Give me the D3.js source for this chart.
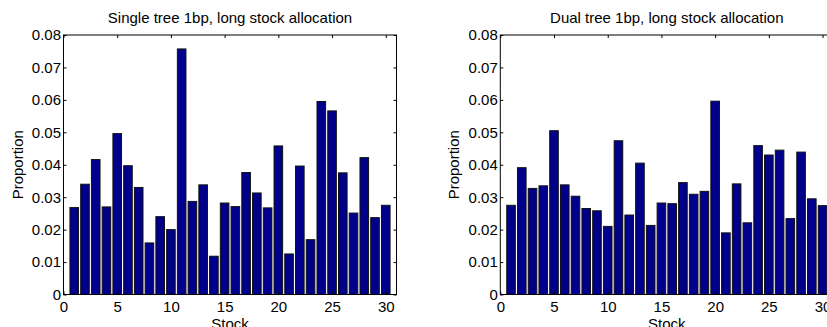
<!DOCTYPE html>
<html>
<head>
<meta charset="utf-8">
<script src="https://cdn.jsdelivr.net/npm/d3@7"></script>
<style>
  body { margin: 0; background: #fff; }
  svg { display: block; }
  text { font-family: "Liberation Sans", Arial, Helvetica, sans-serif; fill: #000; }
</style>
</head>
<body>
<script>
'use strict';

var stocks = d3.range(1, 31);

var singleTree = [
  0.0268, 0.0340, 0.0416, 0.0270, 0.0496, 0.0397, 0.0330, 0.0159, 0.0240, 0.0200,
  0.0757, 0.0287, 0.0338, 0.0118, 0.0282, 0.0271, 0.0376, 0.0313, 0.0267, 0.0458,
  0.0125, 0.0396, 0.0169, 0.0595, 0.0566, 0.0375, 0.0251, 0.0422, 0.0237, 0.0275
];

var dualTree = [
  0.0275, 0.0391, 0.0327, 0.0335, 0.0505, 0.0338, 0.0303, 0.0265, 0.0258, 0.0210,
  0.0474, 0.0245, 0.0405, 0.0213, 0.0282, 0.0280, 0.0345, 0.0309, 0.0318, 0.0596,
  0.0190, 0.0341, 0.0221, 0.0459, 0.0430, 0.0445, 0.0234, 0.0439, 0.0295, 0.0274
];

var xTicks = [0, 5, 10, 15, 20, 25, 30];
var yTicks = [0, 0.01, 0.02, 0.03, 0.04, 0.05, 0.06, 0.07, 0.08];

var titles = [
  'Single tree 1bp, long stock allocation',
  'Dual tree 1bp, long stock allocation'
];

var width  = 827;
var height = 327;

var svg = d3.select('body').append('svg')
    .attr('width', width)
    .attr('height', height);

var plotW = 333;
var plotH = 259.5;
var top0  = 35;

drawPanel(63.5, singleTree, titles[0]);
drawPanel(500.3, dualTree, titles[1]);

function drawPanel(left, values, title) {
  var g = svg.append('g').attr('transform', 'translate(' + left + ',' + top0 + ')');

  var x = d3.scaleLinear().domain([0, 31]).range([0, plotW]);
  var y = d3.scaleLinear().domain([0, 0.08]).range([plotH, 0]);
  var barW = x(0.8) - x(0);

  g.selectAll('rect.bar')
    .data(values)
    .enter().append('rect')
    .attr('class', 'bar')
    .attr('x', function(d, i) { return x(stocks[i]) - barW / 2; })
    .attr('y', function(d) { return y(d); })
    .attr('width', barW)
    .attr('height', function(d) { return y(0) - y(d); })
    .attr('fill', '#00008a')
    .attr('stroke', '#111')
    .attr('stroke-width', 1);

  // box
  g.append('rect')
    .attr('width', plotW)
    .attr('height', plotH)
    .attr('fill', 'none')
    .attr('stroke', '#000')
    .attr('stroke-width', 1);

  var fontSize = '15px';

  var bottom = g.append('g').attr('transform', 'translate(0,' + plotH + ')')
    .call(d3.axisBottom(x).tickValues(xTicks).tickFormat(d3.format('d'))
      .tickSizeInner(-3).tickSizeOuter(0).tickPadding(6.5));
  var leftAx = g.append('g')
    .call(d3.axisLeft(y).tickValues(yTicks).tickFormat(function(d) { return d === 0 ? '0' : d3.format('.2f')(d); })
      .tickSizeInner(-3).tickSizeOuter(0).tickPadding(2.5));
  var topAx = g.append('g')
    .call(d3.axisTop(x).tickValues(xTicks).tickFormat('').tickSizeInner(-3).tickSizeOuter(0));
  var rightAx = g.append('g').attr('transform', 'translate(' + plotW + ',0)')
    .call(d3.axisRight(y).tickValues(yTicks).tickFormat('').tickSizeInner(-3).tickSizeOuter(0));

  [bottom, leftAx, topAx, rightAx].forEach(function(a) {
    a.select('.domain').remove();
    a.selectAll('line').attr('stroke', '#000');
    a.selectAll('text').style('font-size', fontSize)
      .style('font-family', '"Liberation Sans", Arial, sans-serif')
      .attr('fill', '#000');
  });

  g.append('text')
    .attr('x', plotW / 2)
    .attr('y', -11.7)
    .attr('text-anchor', 'middle')
    .style('font-size', fontSize)
    .text(title);

  g.append('text')
    .attr('x', plotW / 2)
    .attr('y', plotH + 34)
    .attr('text-anchor', 'middle')
    .style('font-size', fontSize)
    .text('Stock');

  g.append('text')
    .attr('transform', 'translate(' + (22.5 - 63.5) + ',' + (plotH / 2) + ') rotate(-90)')
    .attr('text-anchor', 'middle')
    .style('font-size', fontSize)
    .text('Proportion');
}
</script>
</body>
</html>
